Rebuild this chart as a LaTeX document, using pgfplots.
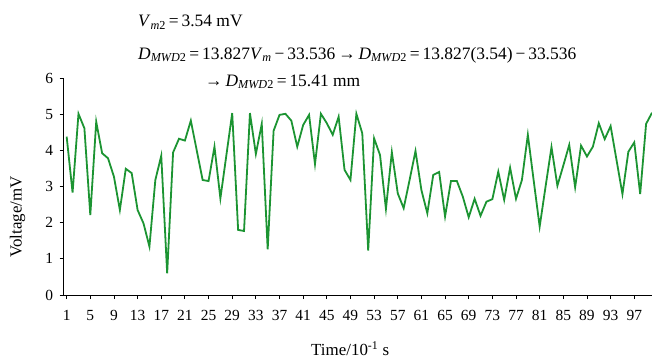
\documentclass[border=0pt]{standalone}
\usepackage{fontspec}
\setmainfont{Liberation Serif}
\usepackage{pgfplots}
\pgfplotsset{compat=1.18}
\definecolor{lg}{RGB}{28,148,50}
\pgfplotstableread{
x y
1 4.38
2 2.83
3 5.01
4 4.61
5 2.21
6 4.79
7 3.92
8 3.78
9 3.27
10 2.35
11 3.49
12 3.37
13 2.35
14 1.98
15 1.34
16 3.18
17 3.85
18 0.60
19 3.94
20 4.32
21 4.27
22 4.82
23 4.00
24 3.18
25 3.15
26 4.10
27 2.67
28 3.85
29 5.03
30 1.80
31 1.77
32 5.03
33 3.90
34 4.73
35 1.26
36 4.54
37 4.98
38 5.01
39 4.82
40 4.10
41 4.70
42 4.98
43 3.62
44 5.01
45 4.75
46 4.43
47 4.93
48 3.46
49 3.18
50 5.01
51 4.47
52 1.23
53 4.33
54 3.87
55 2.38
56 3.95
57 2.81
58 2.40
59 3.18
60 3.98
61 2.90
62 2.26
63 3.32
64 3.40
65 2.17
66 3.15
67 3.15
68 2.72
69 2.15
70 2.66
71 2.19
72 2.58
73 2.65
74 3.41
75 2.63
76 3.52
77 2.66
78 3.18
79 4.43
80 3.15
81 1.89
82 3.00
83 4.09
84 3.02
85 3.58
86 4.15
87 2.98
88 4.13
89 3.83
90 4.10
91 4.75
92 4.31
93 4.67
94 3.73
95 2.79
96 3.96
97 4.22
98 2.79
99 4.73
100 5.04
}\voltdata
\begin{document}
\begin{tikzpicture}
\begin{axis}[
  at={(0,0)}, anchor=south west,
  scale only axis, width=588.3bp, height=217bp,
  xmin=0.5, xmax=100, ymin=0, ymax=6,
  axis lines=left,
  axis line style={-, line width=1pt},
  xtick={1,5,...,97}, ytick={0,1,...,6},
  tick align=outside, major tick length=4bp,
  tick style={black, line width=0.9pt},
  ticklabel style={font=\fontsize{15.5}{15.5}\selectfont},
  xticklabel style={yshift=-8bp},
  yticklabel style={xshift=-3bp},
  /pgf/number format/assume math mode=true,
  xlabel={Time/10\textsuperscript{-1} s},
  ylabel={Voltage/mV},
  every axis x label/.style={at={(axis description cs:0.487,0)}, yshift=-54bp, anchor=center, font=\fontsize{17}{17}\selectfont},
  every axis y label/.style={at={(axis description cs:0,0.36)}, xshift=-46bp, anchor=center, rotate=90, font=\fontsize{17}{17}\selectfont},
  clip=false,
]
\addplot[lg, line width=1.8bp] table[x=x, y=y] {\voltdata};
\end{axis}
\node[anchor=west, inner sep=0pt, font=\fontsize{17.5}{17.5}\selectfont] at (74.3bp,273bp) {\textit{V}\textsubscript{\textit{m}2}\,=\,3.54 mV};
\node[anchor=west, inner sep=0pt, font=\fontsize{17.5}{17.5}\selectfont] at (74.3bp,240bp) {\textit{D}\textsubscript{\textit{MWD}2}\,=\,13.827\textit{V}\textsubscript{\textit{m}}\,−\,33.536\,→\,\textit{D}\textsubscript{\textit{MWD}2}\,=\,13.827(3.54)\,−\,33.536};
\node[anchor=west, inner sep=0pt, font=\fontsize{17.5}{17.5}\selectfont] at (141.3bp,213bp) {→\,\textit{D}\textsubscript{\textit{MWD}2}\,=\,15.41 mm};
\pgfresetboundingbox
\useasboundingbox (-63.7bp,-65bp) rectangle (588.3bp,295bp);
\end{tikzpicture}
\end{document}
